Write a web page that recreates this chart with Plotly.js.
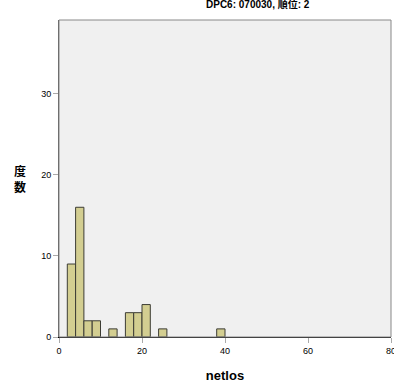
<!DOCTYPE html>
<html><head><meta charset="utf-8">
<script src="https://cdn.plot.ly/plotly-3.0.1.min.js"></script>
<style>html,body{margin:0;padding:0;background:#fff;}</style>
</head><body>
<div id="chart" style="width:394px;height:384px;"></div>
<script>
const binCenters = [3, 5, 7, 9, 13, 17, 19, 21, 25, 39];
const counts = [9, 16, 2, 2, 1, 3, 3, 4, 1, 1];
const binWidth = 2;
const xTicks = [0, 20, 40, 60, 80];
const yTicks = [0, 10, 20, 30];
const titleText = 'DPC6: 070030, 順位: 2';
const xTitle = 'netlos';
const yTitle = '度<br>数';

const font = 'Liberation Sans, Arial, Noto Sans CJK JP, sans-serif';
const data = [{
  type: 'bar',
  x: binCenters,
  y: counts,
  width: binCenters.map(() => binWidth),
  marker: {color: '#d3ce91', line: {color: '#3c3c34', width: 1}},
  hoverinfo: 'none'
}];
const layout = {
  width: 394, height: 384,
  margin: {l: 59, r: 3, t: 20, b: 47},
  paper_bgcolor: '#ffffff',
  plot_bgcolor: '#f0f0f0',
  showlegend: false,
  bargap: 0,
  font: {family: font, size: 9, color: '#000'},
  xaxis: {
    range: [0, 80], tickvals: xTicks, ticktext: xTicks.map(String),
    showgrid: false, zeroline: false, showline: true, linecolor: '#000', linewidth: 1,
    ticks: 'outside', ticklen: 5, tickcolor: '#aaa',
    ticklabeloverflow: 'allow',
    tickfont: {family: font, size: 9, color: '#000'},
    title: {text: xTitle, font: {family: font, size: 13, color: '#000', weight: 'bold'}, standoff: 16}
  },
  yaxis: {
    range: [0, 39.1], tickvals: yTicks, ticktext: yTicks.map(String),
    showgrid: false, zeroline: false, showline: true, linecolor: '#555', linewidth: 1,
    ticks: 'outside', ticklen: 5, tickcolor: '#aaa',
    tickfont: {family: font, size: 9, color: '#000'}
  },
  shapes: [{type: 'rect', xref: 'paper', yref: 'paper', x0: 0, x1: 1, y0: 0, y1: 1,
    line: {color: '#888', width: 1}, fillcolor: 'rgba(0,0,0,0)'}],
  annotations: [
    {text: '<b>' + titleText + '</b>', xref: 'paper', yref: 'paper', x: 0.6, y: 1, yshift: 8,
     xanchor: 'center', yanchor: 'bottom', showarrow: false,
     font: {family: font, size: 10, color: '#000'}},
    {text: '<b>' + yTitle + '</b>', xref: 'paper', yref: 'paper', x: 0, xshift: -39, y: 0.5,
     xanchor: 'center', yanchor: 'middle', showarrow: false,
     font: {family: 'Noto Sans CJK JP, sans-serif', size: 12, color: '#000'}}
  ]
};
Plotly.newPlot('chart', data, layout, {displayModeBar: false, staticPlot: true});
</script>
</body></html>
